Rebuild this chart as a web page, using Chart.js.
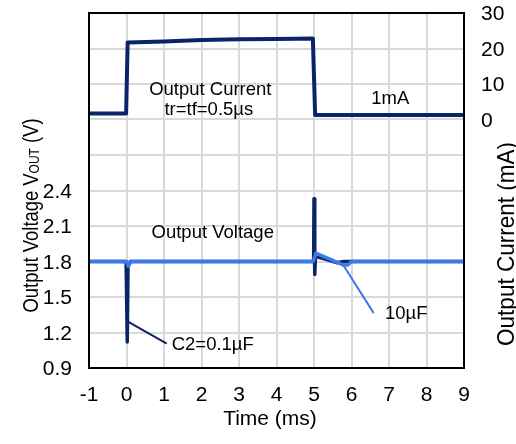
<!DOCTYPE html>
<html>
<head>
<meta charset="utf-8">
<script src="https://cdn.jsdelivr.net/npm/chart.js@4.4.0/dist/chart.umd.min.js"></script>
<style>
  html, body { margin: 0; padding: 0; background: #fff; }
  #wrap { width: 516px; height: 444px; }
</style>
</head>
<body>
<div id="wrap"><canvas id="chart" width="516" height="444"></canvas></div>
<script>
// Output current (mA) vs time (ms)
var curTime = [-1, -0.01, 0.03, 1, 2, 3, 4, 4.97, 5.03, 6, 7, 8, 9];
var curMA = [1.7, 1.7, 21.7, 22.0, 22.4, 22.6, 22.7, 22.8, 1.3, 1.3, 1.3, 1.3, 1.3];

// Output voltage with C2 = 0.1uF
var vSmallTime = [-1, -0.01, 0.02, 0.04, 0.1, 4.99, 5.0, 5.02, 5.04, 5.08, 5.3, 5.6, 5.8, 9];
var vSmall = [1.8, 1.8, 1.12, 1.76, 1.8, 1.8, 2.33, 1.69, 1.86, 1.84, 1.82, 1.79, 1.8, 1.8];

// Output voltage with 10uF
var vBigTime = [-1, 0, 0.05, 0.12, 4.98, 5.05, 5.79, 5.9, 6.0, 9];
var vBig = [1.8, 1.8, 1.76, 1.8, 1.8, 1.87, 1.77, 1.77, 1.8, 1.8];

// leader lines for the labels
var leadSmallX = [0.05, 1.05];
var leadSmallY = [1.29, 1.11];
var leadBigX = [5.78, 6.58];
var leadBigY = [1.77, 1.37];

var xTicks = [-1, 0, 1, 2, 3, 4, 5, 6, 7, 8, 9];
var vTickLabels = [0.9, 1.2, 1.5, 1.8, 2.1, 2.4];
var iTickLabels = [0, 10, 20, 30];

function pts(xs, ys) {
  return xs.map(function (x, i) { return { x: x, y: ys[i] }; });
}

var navy = "#0b2466";
var blue = "#3a7af0";
var font = "'Liberation Sans', Arial, sans-serif";

// labels drawn in data units: [text, x, y(baseline), axis]
var notes = [
  ["Output Current", 2.235, 6.9, "yI"],
  ["tr=tf=0.5\u00b5s", 2.195, 1.3, "yI"],
  ["1mA", 7.035, 4.4, "yI"],
  ["Output Voltage", 2.3, 2.0, "yV"],
  ["10\u00b5F", 7.46, 1.314, "yV"],
  ["C2=0.1\u00b5F", 2.3, 1.055, "yV"],
];

function say(ctx, s, x, y, align, sx) {
  ctx.save();
  ctx.translate(x, y);
  ctx.scale(sx, 1);
  ctx.textAlign = align;
  ctx.fillText(s, 0, 0);
  ctx.restore();
}

var decor = {
  id: "decor",
  afterDraw: function (chart) {
    var ctx = chart.ctx;
    var a = chart.chartArea;
    var sc = chart.scales;
    ctx.save();
    ctx.strokeStyle = "#000";
    ctx.lineWidth = 2;
    ctx.strokeRect(a.left, a.top, a.right - a.left, a.bottom - a.top);

    ctx.fillStyle = "#000";
    ctx.textBaseline = "alphabetic";

    // tick labels
    ctx.font = "20px " + font;
    xTicks.forEach(function (v) {
      say(ctx, String(v), sc.x.getPixelForValue(v), 401, "center", 1.05);
    });
    vTickLabels.forEach(function (v) {
      say(ctx, v.toFixed(1), 72, sc.yV.getPixelForValue(v) + 7, "right", 1.05);
    });
    iTickLabels.forEach(function (v) {
      say(ctx, String(v), 481, sc.yI.getPixelForValue(v) + 7, "left", 1.05);
    });

    // notes
    ctx.font = "18.5px " + font;
    notes.forEach(function (n) {
      say(ctx, n[0], sc.x.getPixelForValue(n[1]), sc[n[3]].getPixelForValue(n[2]), "center", 1);
    });

    // x title
    ctx.font = "20px " + font;
    say(ctx, "Time (ms)", 270, 425, "center", 1.05);

    // right title
    ctx.save();
    ctx.translate(514, 244);
    ctx.rotate(-Math.PI / 2);
    ctx.scale(1, 1.1);
    ctx.font = "22.5px " + font;
    ctx.textAlign = "center";
    ctx.fillText("Output Current (mA)", 0, 0);
    ctx.restore();

    // left title with subscript
    ctx.save();
    ctx.translate(38, 215.5);
    ctx.rotate(-Math.PI / 2);
    ctx.scale(1, 1.2);
    ctx.textAlign = "left";
    var p1 = "Output Voltage V", sub = "OUT", p2 = " (V)";
    ctx.font = "18.4px " + font;
    var w1 = ctx.measureText(p1).width;
    var w3 = ctx.measureText(p2).width;
    ctx.font = "12px " + font;
    var w2 = ctx.measureText(sub).width;
    var x0 = -(w1 + w2 + w3) / 2;
    ctx.font = "18.4px " + font;
    ctx.fillText(p1, x0, 0);
    ctx.font = "12px " + font;
    ctx.fillText(sub, x0 + w1, 1);
    ctx.font = "18.4px " + font;
    ctx.fillText(p2, x0 + w1 + w2, 0);
    ctx.restore();
    ctx.restore();
  },
};

new Chart(document.getElementById("chart"), {
  type: "line",
  data: {
    datasets: [
      { data: pts(vBigTime, vBig), yAxisID: "yV", borderColor: blue, borderWidth: 3.5, order: 0 },
      { data: pts(leadBigX, leadBigY), yAxisID: "yV", borderColor: blue, borderWidth: 2, order: 0 },
      { data: pts(vSmallTime, vSmall), yAxisID: "yV", borderColor: navy, borderWidth: 3.5, order: 1 },
      { data: pts(leadSmallX, leadSmallY), yAxisID: "yV", borderColor: navy, borderWidth: 2, order: 1 },
      { data: pts(curTime, curMA), yAxisID: "yI", borderColor: navy, borderWidth: 4, order: 2 },
    ],
  },
  options: {
    responsive: false,
    animation: false,
    events: [],
    layout: { padding: { top: 13, left: 0, right: 0, bottom: 0 } },
    elements: { point: { radius: 0 }, line: { tension: 0, borderJoinStyle: "round", borderCapStyle: "round" } },
    plugins: { legend: { display: false }, tooltip: { enabled: false } },
    scales: {
      x: {
        type: "linear",
        min: -1,
        max: 9,
        afterBuildTicks: function (s) { s.ticks = xTicks.map(function (v) { return { value: v }; }); },
        afterFit: function (s) { s.height = 76; },
        grid: { color: "#d9d9d9", lineWidth: 2, drawTicks: false },
        border: { display: false },
        ticks: { display: false },
      },
      yV: {
        position: "left",
        min: 0.9,
        max: 3.9,
        afterBuildTicks: function (s) {
          s.ticks = [];
          for (var i = 0; i <= 10; i++) s.ticks.push({ value: 0.9 + i * 0.3 });
        },
        afterFit: function (s) { s.width = 89; },
        grid: { color: "#d9d9d9", lineWidth: 2, drawTicks: false },
        border: { display: false },
        ticks: { display: false },
      },
      yI: {
        position: "right",
        min: -70,
        max: 30,
        afterBuildTicks: function (s) {
          s.ticks = iTickLabels.map(function (v) { return { value: v }; });
        },
        afterFit: function (s) { s.width = 52; },
        grid: { display: false, drawTicks: false },
        border: { display: false },
        ticks: { display: false },
      },
    },
  },
  plugins: [decor],
});
</script>
</body>
</html>
